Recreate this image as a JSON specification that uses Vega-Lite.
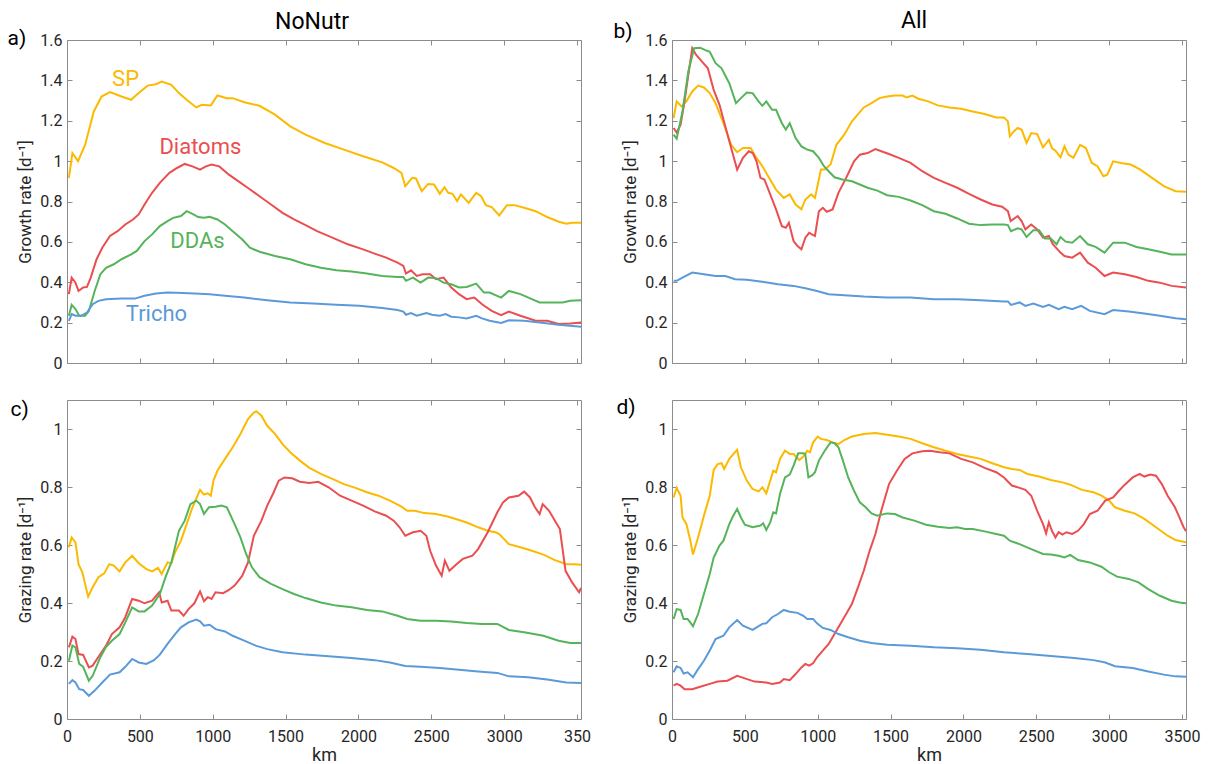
{
"$schema": "https://vega.github.io/schema/vega-lite/v6.json",
"padding": {"left": 6, "top": 9, "right": 5, "bottom": 0},
"datasets": {
"labels": [
{"s":"SP","k":402,"v":1.371},
{"s":"Diatoms","k":915,"v":1.035},
{"s":"DDAs","k":895,"v":0.57},
{"s":"Tricho","k":614,"v":0.209}
],
"curves": [
{"p":"a","s":"SP",
"k":[13,37,76,124,184,237,295,374,440,492,553,610,650,716,768,821,887,926,987,1032,1097,1137,1216,1321,1427,1532,1637,1769,1900,2032,2163,2242,2295,2321,2369,2395,2434,2479,2519,2558,2590,2616,2645,2677,2703,2756,2808,2842,2874,2914,2966,3019,3071,3137,3216,3295,3374,3427,3466,3527],
"v":[0.917,1.04,1.0,1.08,1.246,1.32,1.342,1.32,1.304,1.337,1.374,1.381,1.394,1.378,1.337,1.304,1.266,1.279,1.276,1.325,1.312,1.312,1.292,1.274,1.23,1.172,1.131,1.09,1.057,1.024,0.994,0.966,0.942,0.876,0.917,0.914,0.851,0.887,0.884,0.838,0.871,0.843,0.838,0.802,0.835,0.793,0.843,0.826,0.782,0.772,0.731,0.782,0.782,0.769,0.752,0.723,0.70,0.69,0.695,0.695]},
{"p":"a","s":"Diatoms",
"k":[13,32,58,79,111,137,163,203,242,295,347,400,453,492,532,584,637,703,755,808,861,913,953,992,1045,1111,1177,1242,1321,1400,1479,1558,1637,1716,1821,1927,2032,2111,2190,2268,2308,2326,2360,2400,2440,2492,2532,2584,2637,2690,2742,2795,2848,2914,2979,3032,3111,3216,3295,3374,3453,3527],
"v":[0.341,0.423,0.398,0.357,0.374,0.377,0.423,0.514,0.571,0.629,0.653,0.686,0.711,0.736,0.785,0.843,0.892,0.942,0.966,0.986,0.974,0.958,0.974,0.983,0.974,0.933,0.9,0.867,0.826,0.785,0.744,0.711,0.683,0.653,0.621,0.588,0.563,0.542,0.522,0.497,0.481,0.443,0.459,0.431,0.44,0.44,0.415,0.423,0.374,0.341,0.316,0.324,0.291,0.258,0.237,0.255,0.234,0.209,0.209,0.193,0.196,0.201]},
{"p":"a","s":"DDAs",
"k":[13,32,58,84,124,150,190,229,268,321,374,440,479,532,584,637,690,729,782,821,861,900,940,979,1032,1084,1137,1203,1255,1321,1427,1532,1637,1742,1848,1953,2058,2163,2268,2308,2326,2374,2426,2479,2532,2584,2637,2690,2742,2808,2861,2900,2979,3032,3111,3190,3243,3322,3400,3453,3527],
"v":[0.234,0.288,0.267,0.234,0.234,0.258,0.357,0.44,0.472,0.489,0.514,0.538,0.555,0.604,0.637,0.678,0.703,0.719,0.728,0.752,0.739,0.723,0.719,0.724,0.711,0.686,0.653,0.612,0.571,0.551,0.53,0.514,0.489,0.472,0.459,0.453,0.443,0.431,0.426,0.426,0.407,0.423,0.398,0.423,0.42,0.398,0.39,0.374,0.377,0.393,0.349,0.349,0.324,0.357,0.341,0.316,0.30,0.30,0.30,0.308,0.311]},
{"p":"a","s":"Tricho",
"k":[13,32,58,97,137,176,216,268,374,466,532,610,690,795,874,979,1084,1216,1374,1532,1690,1848,2005,2163,2268,2308,2326,2360,2400,2466,2505,2558,2598,2637,2690,2742,2808,2848,2900,2979,3032,3137,3243,3374,3527],
"v":[0.209,0.242,0.234,0.234,0.25,0.291,0.308,0.316,0.319,0.319,0.333,0.344,0.349,0.347,0.344,0.341,0.333,0.324,0.311,0.30,0.295,0.288,0.283,0.272,0.262,0.255,0.239,0.247,0.234,0.247,0.239,0.234,0.242,0.229,0.226,0.221,0.234,0.221,0.209,0.198,0.212,0.209,0.201,0.189,0.179]},
{"p":"b","s":"SP",
"k":[11,32,64,99,139,179,219,259,299,353,406,447,487,540,580,620,660,714,767,808,848,888,915,955,981,1022,1048,1088,1128,1182,1235,1316,1369,1423,1476,1530,1583,1610,1650,1690,1757,1824,1904,1984,2064,2145,2225,2278,2305,2318,2345,2372,2399,2433,2465,2506,2546,2586,2607,2631,2666,2693,2720,2754,2800,2840,2880,2920,2960,2987,3027,3080,3147,3214,3294,3375,3455,3527],
"v":[1.213,1.296,1.271,1.296,1.345,1.374,1.365,1.337,1.287,1.188,1.081,1.044,1.065,1.065,1.016,0.975,0.925,0.859,0.818,0.835,0.785,0.761,0.81,0.835,0.818,0.958,0.958,0.983,1.081,1.131,1.197,1.266,1.287,1.312,1.32,1.325,1.325,1.315,1.325,1.309,1.296,1.276,1.266,1.259,1.246,1.233,1.216,1.216,1.197,1.123,1.147,1.164,1.156,1.09,1.139,1.134,1.068,1.106,1.065,1.052,1.019,1.073,1.032,1.016,1.081,1.065,0.991,0.975,0.925,0.933,0.999,0.991,0.983,0.958,0.917,0.876,0.851,0.848]},
{"p":"b","s":"Diatoms",
"k":[11,32,59,86,112,139,166,206,246,286,326,366,406,447,487,527,554,580,607,634,674,714,754,781,802,834,861,888,915,941,981,1008,1035,1062,1102,1142,1195,1249,1289,1342,1396,1436,1489,1556,1637,1717,1797,1877,1957,2038,2118,2198,2265,2305,2324,2372,2399,2425,2465,2506,2546,2586,2613,2666,2693,2746,2800,2853,2907,2968,3027,3107,3187,3268,3348,3428,3527],
"v":[1.164,1.142,1.18,1.296,1.427,1.559,1.526,1.493,1.46,1.353,1.279,1.172,1.065,0.958,1.016,1.049,1.04,0.999,0.917,0.909,0.835,0.761,0.678,0.67,0.695,0.604,0.579,0.563,0.621,0.645,0.629,0.752,0.769,0.749,0.761,0.843,0.917,0.999,1.032,1.04,1.06,1.049,1.035,1.016,0.991,0.95,0.917,0.892,0.868,0.838,0.81,0.785,0.774,0.752,0.703,0.728,0.703,0.662,0.686,0.662,0.621,0.629,0.588,0.547,0.53,0.522,0.547,0.497,0.472,0.431,0.448,0.44,0.426,0.407,0.398,0.382,0.374]},
{"p":"b","s":"DDAs",
"k":[11,32,72,112,152,193,225,259,299,340,393,439,473,513,553,594,620,647,687,714,754,781,808,848,888,928,968,1008,1043,1075,1115,1169,1235,1289,1342,1409,1476,1556,1637,1717,1797,1877,1957,2038,2118,2198,2278,2305,2326,2372,2399,2433,2479,2519,2559,2599,2639,2666,2701,2746,2800,2853,2907,2968,3027,3107,3187,3268,3348,3428,3527],
"v":[1.131,1.111,1.246,1.444,1.559,1.562,1.551,1.542,1.485,1.46,1.386,1.287,1.312,1.34,1.337,1.296,1.274,1.296,1.254,1.254,1.188,1.156,1.188,1.114,1.073,1.057,1.049,1.016,0.975,0.95,0.92,0.909,0.9,0.884,0.868,0.854,0.831,0.823,0.805,0.782,0.752,0.739,0.716,0.69,0.683,0.686,0.686,0.683,0.653,0.667,0.662,0.624,0.657,0.657,0.617,0.617,0.588,0.624,0.601,0.596,0.629,0.588,0.575,0.547,0.596,0.596,0.575,0.563,0.551,0.538,0.538]},
{"p":"b","s":"Tricho",
"k":[11,32,72,139,219,299,366,433,513,620,727,834,915,995,1075,1182,1316,1476,1637,1797,1957,2118,2278,2305,2326,2385,2425,2479,2546,2586,2653,2693,2746,2808,2867,2968,3027,3134,3241,3348,3455,3527],
"v":[0.407,0.407,0.423,0.448,0.44,0.431,0.431,0.415,0.412,0.403,0.39,0.382,0.37,0.357,0.341,0.336,0.329,0.324,0.324,0.316,0.316,0.311,0.305,0.305,0.288,0.30,0.283,0.295,0.278,0.288,0.267,0.278,0.267,0.283,0.258,0.242,0.262,0.255,0.245,0.234,0.222,0.217]},
{"p":"c","s":"SP",
"k":[13,32,58,79,105,124,145,176,216,255,290,321,361,400,447,492,545,584,624,650,690,716,742,782,821,861,913,940,966,987,1005,1032,1084,1137,1190,1242,1282,1300,1334,1374,1427,1479,1532,1598,1663,1742,1821,1900,1979,2058,2137,2216,2295,2335,2387,2453,2532,2611,2690,2756,2821,2887,2940,2966,3032,3111,3190,3269,3348,3427,3479,3527],
"v":[0.592,0.626,0.609,0.534,0.506,0.466,0.422,0.454,0.489,0.502,0.534,0.529,0.509,0.54,0.563,0.537,0.517,0.509,0.521,0.50,0.54,0.537,0.575,0.615,0.672,0.73,0.79,0.774,0.778,0.77,0.822,0.856,0.897,0.937,0.983,1.034,1.057,1.061,1.046,1.011,0.983,0.948,0.92,0.891,0.866,0.845,0.828,0.81,0.797,0.782,0.77,0.753,0.732,0.718,0.718,0.71,0.707,0.698,0.686,0.675,0.661,0.649,0.644,0.638,0.603,0.592,0.58,0.567,0.548,0.534,0.534,0.532]},
{"p":"c","s":"Diatoms",
"k":[13,37,58,79,111,150,176,229,268,308,361,400,447,492,532,584,632,650,690,716,768,800,834,874,913,940,966,992,1019,1071,1111,1150,1203,1242,1282,1334,1374,1413,1453,1492,1545,1598,1663,1724,1795,1874,1953,2032,2111,2190,2242,2282,2321,2374,2426,2466,2492,2532,2571,2593,2624,2663,2716,2782,2821,2887,2953,2992,3032,3098,3137,3177,3211,3243,3264,3308,3348,3382,3421,3466,3514,3527],
"v":[0.247,0.284,0.276,0.224,0.221,0.178,0.184,0.224,0.253,0.293,0.316,0.351,0.414,0.408,0.399,0.408,0.437,0.402,0.408,0.374,0.374,0.356,0.379,0.399,0.44,0.406,0.42,0.414,0.437,0.434,0.445,0.46,0.494,0.54,0.632,0.684,0.736,0.776,0.822,0.833,0.83,0.818,0.814,0.818,0.799,0.77,0.753,0.736,0.716,0.701,0.684,0.661,0.632,0.644,0.649,0.632,0.58,0.529,0.494,0.546,0.511,0.529,0.552,0.563,0.586,0.644,0.713,0.747,0.764,0.77,0.784,0.764,0.73,0.707,0.741,0.718,0.684,0.655,0.511,0.471,0.437,0.452]},
{"p":"c","s":"DDAs",
"k":[13,37,58,84,111,150,176,229,268,308,361,400,447,492,532,584,637,676,716,768,808,847,887,913,940,974,1019,1058,1097,1150,1190,1229,1269,1321,1400,1479,1558,1637,1742,1848,1953,2058,2163,2268,2335,2426,2532,2637,2742,2848,2953,3032,3137,3269,3374,3453,3527],
"v":[0.201,0.253,0.247,0.19,0.18,0.132,0.149,0.213,0.249,0.27,0.293,0.333,0.385,0.371,0.371,0.391,0.431,0.489,0.54,0.649,0.684,0.741,0.753,0.741,0.707,0.73,0.732,0.736,0.73,0.672,0.626,0.569,0.523,0.489,0.466,0.448,0.431,0.417,0.402,0.391,0.385,0.376,0.371,0.356,0.345,0.339,0.339,0.336,0.331,0.328,0.328,0.307,0.299,0.287,0.27,0.262,0.262]},
{"p":"c","s":"Tricho",
"k":[13,37,58,84,111,150,190,242,295,361,400,447,492,545,597,637,690,742,782,834,887,913,940,979,1019,1084,1137,1216,1295,1374,1479,1637,1795,1953,2111,2216,2321,2426,2558,2690,2821,2953,3032,3164,3295,3427,3527],
"v":[0.121,0.134,0.126,0.103,0.10,0.08,0.098,0.126,0.153,0.161,0.18,0.207,0.195,0.19,0.203,0.222,0.259,0.293,0.316,0.333,0.343,0.337,0.322,0.325,0.31,0.302,0.287,0.27,0.253,0.241,0.23,0.222,0.216,0.21,0.203,0.195,0.183,0.18,0.176,0.17,0.164,0.159,0.147,0.144,0.136,0.126,0.124]},
{"p":"d","s":"SP",
"k":[11,32,59,72,99,126,144,179,219,259,286,313,340,358,393,433,447,473,513,553,594,620,647,674,695,714,741,775,808,834,874,901,928,947,968,1000,1021,1062,1102,1142,1182,1235,1316,1396,1476,1556,1637,1717,1797,1877,1957,2038,2118,2198,2278,2332,2385,2439,2519,2599,2679,2733,2813,2893,2947,3000,3040,3107,3174,3241,3321,3401,3455,3527],
"v":[0.764,0.797,0.77,0.695,0.672,0.615,0.567,0.626,0.701,0.77,0.859,0.879,0.882,0.862,0.897,0.92,0.928,0.868,0.822,0.793,0.785,0.799,0.778,0.822,0.856,0.851,0.897,0.925,0.914,0.914,0.893,0.905,0.925,0.92,0.954,0.974,0.966,0.962,0.954,0.948,0.962,0.974,0.983,0.986,0.98,0.974,0.966,0.951,0.937,0.925,0.914,0.905,0.897,0.882,0.868,0.862,0.859,0.845,0.836,0.824,0.816,0.808,0.79,0.782,0.77,0.753,0.73,0.718,0.709,0.69,0.661,0.632,0.617,0.609]},
{"p":"d","s":"Diatoms",
"k":[11,32,59,86,139,193,259,313,380,447,500,567,647,687,741,767,808,848,888,915,941,968,995,1035,1075,1115,1155,1195,1235,1276,1316,1356,1396,1436,1489,1543,1596,1650,1717,1770,1837,1904,1984,2064,2145,2225,2278,2332,2385,2425,2465,2506,2546,2567,2586,2607,2631,2653,2679,2706,2746,2786,2826,2867,2920,2973,3027,3067,3107,3161,3209,3241,3281,3321,3361,3401,3449,3482,3509,3527],
"v":[0.115,0.121,0.115,0.103,0.103,0.111,0.121,0.129,0.132,0.149,0.14,0.129,0.126,0.121,0.126,0.138,0.134,0.155,0.178,0.19,0.184,0.192,0.213,0.236,0.259,0.293,0.328,0.362,0.397,0.454,0.511,0.58,0.638,0.718,0.81,0.856,0.897,0.916,0.923,0.925,0.92,0.916,0.897,0.885,0.866,0.851,0.833,0.805,0.797,0.79,0.77,0.718,0.672,0.64,0.678,0.649,0.626,0.644,0.636,0.644,0.638,0.649,0.672,0.707,0.718,0.753,0.764,0.787,0.808,0.833,0.845,0.836,0.843,0.839,0.81,0.77,0.732,0.695,0.663,0.647]},
{"p":"d","s":"DDAs",
"k":[11,32,59,80,107,144,179,219,259,286,326,353,393,420,447,473,500,553,607,626,647,674,695,714,741,775,808,834,866,901,914,936,963,981,1008,1048,1088,1115,1142,1169,1209,1249,1289,1329,1369,1409,1476,1530,1583,1663,1743,1824,1904,1957,2011,2064,2145,2225,2278,2318,2385,2465,2546,2599,2653,2693,2733,2786,2867,2947,3000,3054,3134,3201,3268,3348,3428,3482,3527],
"v":[0.345,0.379,0.376,0.345,0.345,0.32,0.362,0.431,0.50,0.557,0.598,0.615,0.672,0.701,0.724,0.695,0.67,0.661,0.667,0.675,0.652,0.678,0.713,0.709,0.776,0.833,0.843,0.874,0.916,0.916,0.914,0.833,0.841,0.851,0.891,0.925,0.954,0.951,0.937,0.897,0.833,0.787,0.747,0.73,0.709,0.701,0.709,0.707,0.695,0.684,0.67,0.663,0.659,0.661,0.655,0.655,0.647,0.638,0.632,0.615,0.603,0.586,0.569,0.567,0.563,0.557,0.566,0.548,0.54,0.525,0.506,0.491,0.483,0.471,0.448,0.425,0.408,0.402,0.399]},
{"p":"d","s":"Tricho",
"k":[11,32,59,80,107,144,179,219,259,299,353,393,447,487,553,620,647,687,727,767,808,861,901,928,968,995,1035,1088,1142,1209,1289,1369,1476,1637,1797,1957,2118,2278,2439,2599,2760,2893,2973,3040,3161,3268,3375,3455,3527],
"v":[0.161,0.182,0.176,0.157,0.161,0.144,0.172,0.201,0.236,0.276,0.287,0.316,0.341,0.322,0.307,0.328,0.33,0.351,0.362,0.376,0.37,0.366,0.356,0.345,0.345,0.33,0.314,0.307,0.293,0.282,0.27,0.262,0.256,0.253,0.247,0.244,0.239,0.23,0.224,0.217,0.21,0.203,0.195,0.182,0.176,0.164,0.153,0.147,0.146]}
]
},
"columns": 2,
"spacing": {"row": 37, "column": 91},
"bounds": "flush",
"concat": [
{
"width": 514, "height": 323,
"title": {"text": "NoNutr", "dx": -12, "offset": -7, "fontSize": 23, "fontWeight": "normal", "color": "#000000", "anchor": "middle", "frame": "group"},
"layer": [
{"data": {"name": "curves"}, "transform": [{"filter": "datum.p == 'a'"}, {"flatten": ["k", "v"]}],
 "mark": {"type": "line", "strokeWidth": 2, "clip": true},
 "encoding": {
  "x": {"field": "k", "type": "quantitative", "scale": {"domain": [0, 3527], "nice": false, "zero": false}, "axis": {"orient": "bottom", "values": [0,500,1000,1500,2000,2500,3000,3500], "labels": false, "title": null}},
  "y": {"field": "v", "type": "quantitative", "scale": {"domain": [0, 1.6], "nice": false}, "axis": {"values": [0,0.2,0.4,0.6,0.8,1,1.2,1.4,1.6], "format": ".1~f", "title": "Growth rate [d⁻¹]"}},
  "color": {"field": "s", "type": "nominal", "scale": {"domain": ["SP","Diatoms","DDAs","Tricho"], "range": ["#FBBA00","#EB4E50","#55B45A","#5B9AD8"]}, "legend": null}}},
{"data": {"name": "curves"}, "transform": [{"filter": "datum.p == 'a'"}, {"flatten": ["k", "v"]}],
 "mark": {"type": "point", "opacity": 0},
 "encoding": {
  "x": {"field": "k", "type": "quantitative", "axis": {"orient": "top", "values": [0,500,1000,1500,2000,2500,3000,3500], "labels": false, "title": "a)", "titleX": -60, "titleY": 4, "titleAlign": "left", "titleBaseline": "alphabetic", "titleFontSize": 21, "titleColor": "#000000"}},
  "y": {"field": "v", "type": "quantitative", "axis": {"orient": "right", "values": [0,0.2,0.4,0.6,0.8,1,1.2,1.4,1.6], "labels": false, "title": null}}}},
{"data": {"name": "labels"},
 "mark": {"type": "text", "fontSize": 22, "baseline": "alphabetic", "align": "center"},
 "encoding": {
  "x": {"field": "k", "type": "quantitative", "axis": null},
  "y": {"field": "v", "type": "quantitative", "axis": null},
  "text": {"field": "s"},
  "color": {"field": "s", "type": "nominal", "legend": null}}}
],
"resolve": {"axis": {"x": "independent", "y": "independent"}}
},
{
"width": 514, "height": 323,
"title": {"text": "All", "dx": -15, "offset": -13, "fontSize": 23, "fontWeight": "normal", "color": "#000000", "anchor": "middle", "frame": "group"},
"layer": [
{"data": {"name": "curves"}, "transform": [{"filter": "datum.p == 'b'"}, {"flatten": ["k", "v"]}],
 "mark": {"type": "line", "strokeWidth": 2, "clip": true},
 "encoding": {
  "x": {"field": "k", "type": "quantitative", "scale": {"domain": [0, 3527], "nice": false, "zero": false}, "axis": {"orient": "bottom", "values": [0,500,1000,1500,2000,2500,3000,3500], "labels": false, "title": null}},
  "y": {"field": "v", "type": "quantitative", "scale": {"domain": [0, 1.6], "nice": false}, "axis": {"values": [0,0.2,0.4,0.6,0.8,1,1.2,1.4,1.6], "format": ".1~f", "title": "Growth rate [d⁻¹]"}},
  "color": {"field": "s", "type": "nominal", "scale": {"domain": ["SP","Diatoms","DDAs","Tricho"], "range": ["#FBBA00","#EB4E50","#55B45A","#5B9AD8"]}, "legend": null}}},
{"data": {"name": "curves"}, "transform": [{"filter": "datum.p == 'b'"}, {"flatten": ["k", "v"]}],
 "mark": {"type": "point", "opacity": 0},
 "encoding": {
  "x": {"field": "k", "type": "quantitative", "axis": {"orient": "top", "values": [0,500,1000,1500,2000,2500,3000,3500], "labels": false, "title": "b)", "titleX": -59, "titleY": -3, "titleAlign": "left", "titleBaseline": "alphabetic", "titleFontSize": 21, "titleColor": "#000000"}},
  "y": {"field": "v", "type": "quantitative", "axis": {"orient": "right", "values": [0,0.2,0.4,0.6,0.8,1,1.2,1.4,1.6], "labels": false, "title": null}}}}
],
"resolve": {"axis": {"x": "independent", "y": "independent"}}
},
{
"width": 514, "height": 319,
"layer": [
{"data": {"name": "curves"}, "transform": [{"filter": "datum.p == 'c'"}, {"flatten": ["k", "v"]}],
 "mark": {"type": "line", "strokeWidth": 2, "clip": true},
 "encoding": {
  "x": {"field": "k", "type": "quantitative", "scale": {"domain": [0, 3527], "nice": false, "zero": false}, "axis": {"orient": "bottom", "values": [0,500,1000,1500,2000,2500,3000,3500], "format": "d", "labelExpr": "datum.value == 3500 ? '350' : datum.label", "title": "km", "labelPadding": 14, "titlePadding": 2, "titleFontSize": 18}},
  "y": {"field": "v", "type": "quantitative", "scale": {"domain": [0, 1.1], "nice": false}, "axis": {"values": [0,0.2,0.4,0.6,0.8,1], "format": ".1~f", "title": "Grazing rate [d⁻¹]"}},
  "color": {"field": "s", "type": "nominal", "scale": {"domain": ["SP","Diatoms","DDAs","Tricho"], "range": ["#FBBA00","#EB4E50","#55B45A","#5B9AD8"]}, "legend": null}}},
{"data": {"name": "curves"}, "transform": [{"filter": "datum.p == 'c'"}, {"flatten": ["k", "v"]}],
 "mark": {"type": "point", "opacity": 0},
 "encoding": {
  "x": {"field": "k", "type": "quantitative", "axis": {"orient": "top", "values": [0,500,1000,1500,2000,2500,3000,3500], "labels": false, "title": "c)", "titleX": -57, "titleY": 15, "titleAlign": "left", "titleBaseline": "alphabetic", "titleFontSize": 21, "titleColor": "#000000"}},
  "y": {"field": "v", "type": "quantitative", "axis": {"orient": "right", "values": [0,0.2,0.4,0.6,0.8,1], "labels": false, "title": null}}}}
],
"resolve": {"axis": {"x": "independent", "y": "independent"}}
},
{
"width": 514, "height": 319,
"layer": [
{"data": {"name": "curves"}, "transform": [{"filter": "datum.p == 'd'"}, {"flatten": ["k", "v"]}],
 "mark": {"type": "line", "strokeWidth": 2, "clip": true},
 "encoding": {
  "x": {"field": "k", "type": "quantitative", "scale": {"domain": [0, 3527], "nice": false, "zero": false}, "axis": {"orient": "bottom", "values": [0,500,1000,1500,2000,2500,3000,3500], "format": "d", "title": "km", "labelPadding": 14, "titlePadding": 2, "titleFontSize": 18}},
  "y": {"field": "v", "type": "quantitative", "scale": {"domain": [0, 1.1], "nice": false}, "axis": {"values": [0,0.2,0.4,0.6,0.8,1], "format": ".1~f", "title": "Grazing rate [d⁻¹]"}},
  "color": {"field": "s", "type": "nominal", "scale": {"domain": ["SP","Diatoms","DDAs","Tricho"], "range": ["#FBBA00","#EB4E50","#55B45A","#5B9AD8"]}, "legend": null}}},
{"data": {"name": "curves"}, "transform": [{"filter": "datum.p == 'd'"}, {"flatten": ["k", "v"]}],
 "mark": {"type": "point", "opacity": 0},
 "encoding": {
  "x": {"field": "k", "type": "quantitative", "axis": {"orient": "top", "values": [0,500,1000,1500,2000,2500,3000,3500], "labels": false, "title": "d)", "titleX": -56, "titleY": 13, "titleAlign": "left", "titleBaseline": "alphabetic", "titleFontSize": 21, "titleColor": "#000000"}},
  "y": {"field": "v", "type": "quantitative", "axis": {"orient": "right", "values": [0,0.2,0.4,0.6,0.8,1], "labels": false, "title": null}}}}
],
"resolve": {"axis": {"x": "independent", "y": "independent"}}
}
],
"config": {
 "font": "Roboto",
 "view": {"stroke": "#8c8c8c", "strokeWidth": 1},
 "axis": {"grid": false, "domain": false, "tickColor": "#8c8c8c", "tickSize": -5, "labelColor": "#262626", "labelFontSize": 16, "titleFontSize": 17, "titleFontWeight": "normal", "titleColor": "#262626", "labelFlush": false, "labelPadding": 10, "titlePadding": 5},
 "title": {"fontSize": 21, "fontWeight": "normal", "color": "#000000", "anchor": "middle", "frame": "group"}
}
}
